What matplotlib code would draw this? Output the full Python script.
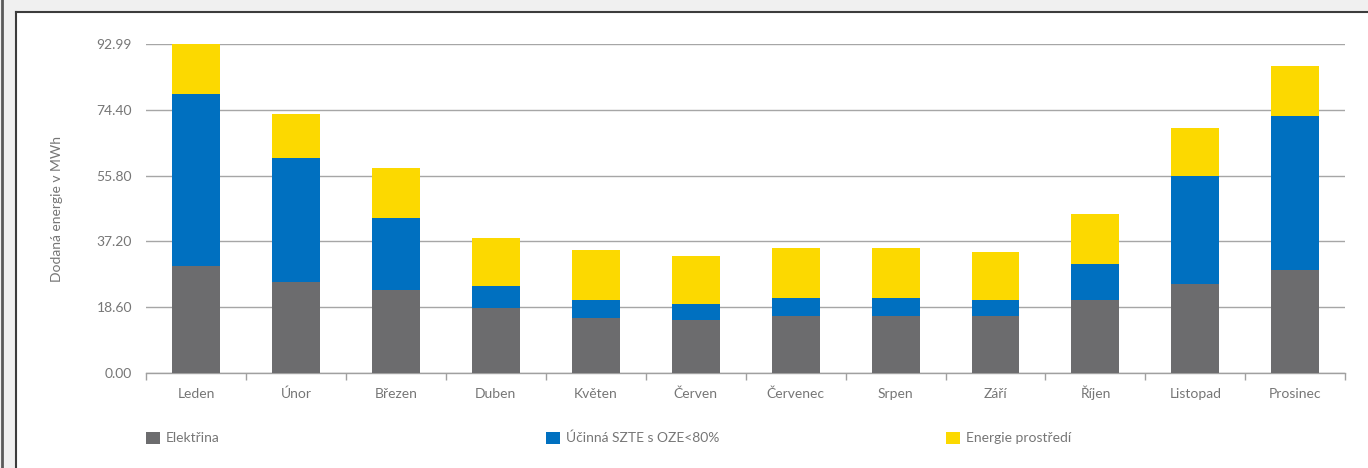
import numpy as np
import matplotlib
matplotlib.use('Agg')
from matplotlib import pyplot as plt
from matplotlib.patches import Rectangle
from matplotlib.lines import Line2D

mesice = ['Leden', 'Únor', 'Březen', 'Duben', 'Květen', 'Červen',
          'Červenec', 'Srpen', 'Září', 'Říjen', 'Listopad', 'Prosinec']
elektrina = [30.3, 25.75, 23.5, 18.4, 15.6, 15.0, 16.2, 16.2, 16.2, 20.7, 25.2, 29.1]
szte = [48.5, 35.0, 20.3, 6.2, 5.1, 4.5, 5.0, 5.0, 4.5, 10.1, 30.5, 43.5]
prostredi = [14.2, 12.45, 14.1, 13.6, 14.1, 13.55, 14.15, 14.15, 13.5, 14.2, 13.4, 14.1]
nazvy = ['Elektřina', 'Účinná SZTE s OZE<80%', 'Energie prostředí']
barvy = ['#6c6c6e', '#0070c0', '#fcd900']
yticks = [0.00, 18.60, 37.20, 55.80, 74.40, 92.99]

plt.rcParams['font.family'] = ['Lato', 'DejaVu Sans']
txt = '#767676'

W, H = 1368, 468
fig = plt.figure(figsize=(W / 100, H / 100), dpi=100, facecolor='#f0f0f0')

# frame around the chart
fig.patches.append(Rectangle((16 / W, 0), 1, 1 - 12 / H, transform=fig.transFigure,
                             facecolor='white', edgecolor='none', zorder=-10))
fig.lines.append(Line2D([16 / W, 16 / W], [0, 1 - 12 / H], transform=fig.transFigure,
                        color='#3c3c3c', lw=1.5))
fig.lines.append(Line2D([16 / W, 1], [1 - 12 / H, 1 - 12 / H], transform=fig.transFigure,
                        color='#3c3c3c', lw=1.5))
fig.lines.append(Line2D([2 / W, 2 / W], [0, 1], transform=fig.transFigure,
                        color='#5a5a5a', lw=2))

ax = fig.add_axes([146 / W, 1 - 373.3 / H, 1199.3 / W, 329.6 / H])
ax.set_facecolor('none')

x = np.arange(len(mesice))
bottom = np.zeros(len(mesice))
for vals, nazev, barva in zip([elektrina, szte, prostredi], nazvy, barvy):
    ax.bar(x, vals, width=0.48, bottom=bottom, color=barva, label=nazev, zorder=3)
    bottom += np.array(vals)

ax.set_xlim(-0.5, len(mesice) - 0.5)
ax.set_ylim(0, 92.99)
ax.set_yticks(yticks)
ax.set_yticklabels(['%.2f' % v for v in yticks])
ax.set_xticks(x)
ax.set_xticklabels(mesice, va='baseline')
ax.set_xticks(np.arange(len(mesice) + 1) - 0.5, minor=True)
ax.tick_params(axis='x', which='major', length=0, pad=18, labelsize=10, labelcolor=txt)
ax.tick_params(axis='x', which='minor', length=5, width=1, color='#a0a0a0')
ax.tick_params(axis='y', length=0, pad=10, labelsize=10, labelcolor=txt)
ax.grid(axis='y', color='#a6a6a6', lw=1, zorder=0)

for s in ['top', 'right', 'left']:
    ax.spines[s].set_visible(False)
ax.spines['bottom'].set_color('#a0a0a0')
ax.spines['bottom'].set_linewidth(1)

fig.text(57 / W, 1 - 208.5 / H, 'Dodaná energie v MWh', rotation=90,
         ha='center', va='center', fontsize=10, color=txt)

handles, labels = ax.get_legend_handles_labels()
for h, l, px in zip(handles, labels, [146, 546, 946]):
    fig.legend([h], [l], loc='center left', bbox_to_anchor=(px / W, 1 - 438 / H),
               frameon=False, borderpad=0, borderaxespad=0, handlelength=1,
               handleheight=1, handletextpad=0.45, fontsize=10, labelcolor=txt)

plt.savefig('out.png', dpi=100, facecolor=fig.get_facecolor())
